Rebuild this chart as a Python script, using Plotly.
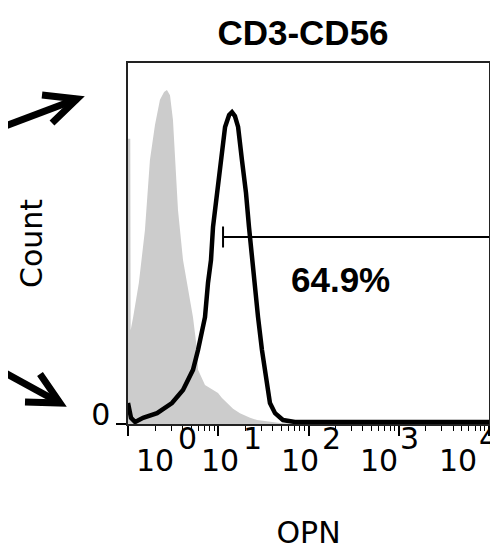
import plotly.graph_objects as go

# ---------------- data ----------------
# control (isotype) histogram - grey filled
ctrl_x = [1.00, 1.06, 1.07, 1.14, 1.32, 1.47, 1.54, 1.75, 1.99, 2.26, 2.51, 2.70, 2.92,
          3.15, 3.32, 3.58, 4.07, 4.51, 5.25, 5.82, 5.97, 7.13, 8.75, 9.94, 11.0,
          12.5, 14.6, 17.4, 22.5, 26.9, 37.4, 48.3, 80.5]
ctrl_count = [79, 79, 26, 29.6, 39.1, 48.2, 53.7, 73.1, 82.8, 89.8, 92.0, 92.5, 91.1,
              84.2, 73.1, 59.3, 45.4, 39.1, 29.6, 20.5, 15.0, 10.8, 9.4, 8.6, 7.2,
              5.8, 4.2, 3.0, 1.7, 1.1, 0.6, 0.3, 0.0]

# OPN stained histogram - black line
opn_x = [1.00, 1.08, 1.20, 1.47, 2.10, 3.07, 4.07, 5.25, 5.97, 7.13, 7.70, 8.31, 8.75,
         9.68, 10.7, 11.9, 13.2, 14.2, 15.3, 16.6, 18.3, 20.3, 21.9, 23.1, 24.9,
         27.6, 30.5, 34.7, 37.4, 42.6, 52.1, 70.8, 10000]
opn_count = [5.8, 1.7, 0.55, 1.7, 3.0, 5.8, 9.4, 15.0, 20.5, 29.6, 39.1, 45.4, 54.6,
             64.0, 73.1, 82.3, 85.6, 86.4, 85.3, 82.3, 73.1, 64.0, 54.6, 48.2, 39.1,
             29.6, 20.5, 11.4, 5.8, 3.0, 1.1, 0.55, 0.55]

gate_x = [11.3, 10000]
gate_level = 51.8
gate_label = "64.9%"
gate_label_x = 223
gate_label_y = 40

title_text = "CD3-CD56"
x_title = "OPN"
y_title = "Count"
decade_vals = [1, 10, 100, 1000, 10000]
tick_bases = ["10", "10", "10", "10", "10"]
tick_exponents = ["0", "1", "2", "3", "4"]

# ---------------- layout helpers ----------------
OFF = 8  # page body margin of the html page
W, H = 498 - OFF, 550 - OFF
L, R, T, B = 128 - OFF, 9, 63 - OFF, 126
PW, PH = W - L - R, H - T - B


def px(xp):
    return (xp - OFF - L) / PW


def py(yp):
    return (H - B - (yp - OFF)) / PH


fig = go.Figure()

fig.add_trace(go.Scatter(
    x=ctrl_x, y=ctrl_count, mode="lines", fill="tozeroy",
    line=dict(color="#cccccc", width=0, shape="linear"),
    fillcolor="#cccccc", hoverinfo="skip", showlegend=False))

fig.add_trace(go.Scatter(
    x=opn_x, y=opn_count, mode="lines",
    line=dict(color="black", width=4.5), hoverinfo="skip", showlegend=False))

# gate bar
fig.add_trace(go.Scatter(
    x=gate_x, y=[gate_level, gate_level], mode="lines",
    line=dict(color="black", width=2), hoverinfo="skip", showlegend=False))
fig.add_trace(go.Scatter(
    x=[gate_x[0]], y=[gate_level], mode="markers",
    marker=dict(symbol="line-ns", size=15, line=dict(color="black", width=2)),
    hoverinfo="skip", showlegend=False))

annotations = [dict(
    x=2.349, y=gate_label_y, xref="x", yref="y", text=f"<b>{gate_label}</b>",
    showarrow=False, font=dict(family="Liberation Sans, Arial", size=35, color="black"))]

# tick labels (base + raised exponent)
base_centres = [155, 220, 300, 379, 458]
exp_centres = [187, 252, 331, 409, 488]
for b, e, bx, ex in zip(tick_bases, tick_exponents, base_centres, exp_centres):
    annotations.append(dict(x=px(bx), y=py(461), xref="paper", yref="paper", text=b,
                            showarrow=False, xanchor="center", yanchor="middle",
                            font=dict(family="DejaVu Sans", size=30, color="black")))
    annotations.append(dict(x=px(ex), y=py(438), xref="paper", yref="paper", text=e,
                            showarrow=False, xanchor="center", yanchor="middle",
                            font=dict(family="DejaVu Sans", size=30, color="black")))

shapes = []
for path in [
    (f"M {px(0)} {py(128)} L {px(77)} {py(99)}",
     f"M {px(42)} {py(95)} L {px(77)} {py(99)} L {px(52)} {py(123)}"),
    (f"M {px(0)} {py(370)} L {px(60)} {py(403)}",
     f"M {px(40)} {py(374)} L {px(60)} {py(403)} L {px(25)} {py(402)}"),
]:
    for p in path:
        shapes.append(dict(type="path", path=p, xref="paper", yref="paper",
                           line=dict(color="black", width=7)))

fig.update_layout(
    width=W, height=H,
    margin=dict(l=L, r=R, t=T, b=B, pad=0),
    paper_bgcolor="white", plot_bgcolor="white",
    showlegend=False,
    title=dict(text=f"<b>{title_text}</b>", x=px(303), xref="paper", xanchor="center",
               y=1 - (33 - OFF) / H, yref="container", yanchor="middle",
               font=dict(family="Liberation Sans, Arial", size=35, color="black")),
    annotations=annotations,
    shapes=shapes,
)

fig.update_xaxes(
    type="log", range=[0, 4], tickvals=decade_vals, showticklabels=False,
    ticks="outside", ticklen=10, tickwidth=1.5, tickcolor="black",
    minor=dict(ticks="outside", ticklen=5, tickwidth=1, tickcolor="black", dtick="D1"),
    showline=True, linecolor="#222222", linewidth=1.5, mirror=True,
    showgrid=False, zeroline=False,
    title=dict(text=x_title, standoff=88,
               font=dict(family="DejaVu Sans", size=30, color="black")),
    automargin=False)

fig.update_yaxes(
    range=[0, 100], tickvals=[0], ticktext=["0"], ticks="outside", ticklen=10,
    tickwidth=1.5, tickcolor="black", ticklabelshift=-10,
    tickfont=dict(family="DejaVu Sans", size=30, color="black"),
    showline=True, linecolor="#222222", linewidth=1.5, mirror=True,
    showgrid=False, zeroline=False,
    title=dict(text=y_title, standoff=40,
               font=dict(family="DejaVu Sans", size=30, color="black")),
    automargin=False)

fig.write_html("out.html")
